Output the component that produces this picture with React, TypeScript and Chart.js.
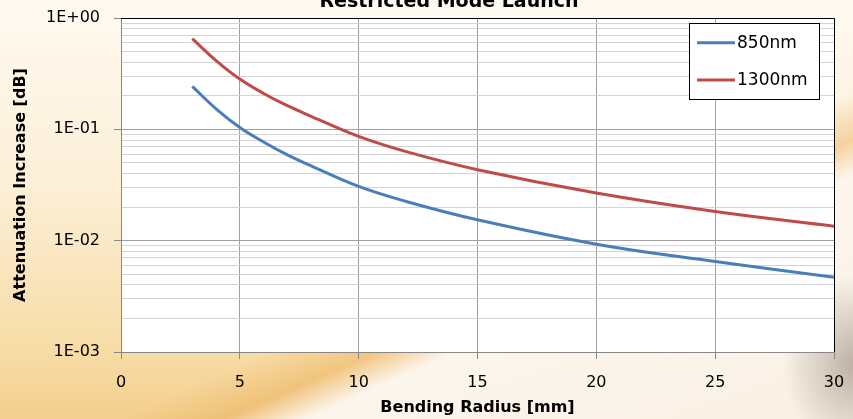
import React, { useEffect, useRef } from 'react';
import { Chart, registerables } from 'chart.js';

Chart.register(...registerables);

// ---- data ----
const radiusMm = [3, 4, 5, 6, 7, 8, 10, 12, 15, 20, 25, 30];
const loss850 = [0.243, 0.153, 0.104, 0.077, 0.059, 0.047, 0.0307, 0.0225, 0.0154, 0.0093, 0.0065, 0.0047];
const loss1300 = [0.652, 0.415, 0.283, 0.21, 0.163, 0.131, 0.0863, 0.063, 0.0434, 0.0268, 0.0183, 0.0135];
const seriesNames = ['850nm', '1300nm'];
const seriesColors = ['#4A7EBB', '#BE4B48'];
const xTickValues = [0, 5, 10, 15, 20, 25, 30];
const yDecades = [1, 0.1, 0.01, 0.001];
const yTickLabels = ['1E+00', '1E-01', '1E-02', '1E-03'];
const titleText = 'Restricted Mode Launch';
const xTitleText = 'Bending Radius [mm]';
const yTitleText = 'Attenuation Increase [dB]';

const FONT = '"DejaVu Sans", "Liberation Sans", sans-serif';

const isDecade = (v: number) => {
  const l = Math.log10(v);
  return Math.abs(l - Math.round(l)) < 1e-6;
};

const decadeLabel = (v: number) => {
  for (let i = 0; i < yDecades.length; i++) {
    if (Math.abs(Math.log10(v) - Math.log10(yDecades[i])) < 1e-6) return yTickLabels[i];
  }
  return '';
};

export default function App() {
  const canvasRef = useRef<HTMLCanvasElement | null>(null);

  useEffect(() => {
    document.body.style.margin = '0';
    const canvas = canvasRef.current;
    if (!canvas) return;

    const plotBg = {
      id: 'plotBg',
      beforeDraw(chart: any) {
        const { ctx, chartArea } = chart;
        ctx.save();
        ctx.fillStyle = '#ffffff';
        ctx.fillRect(chartArea.left, chartArea.top, chartArea.right - chartArea.left, chartArea.bottom - chartArea.top);
        ctx.restore();
      },
    };

    const frameAndText = {
      id: 'frameAndText',
      afterDraw(chart: any) {
        const { ctx, chartArea } = chart;
        ctx.save();
        // black frame on top and right
        ctx.strokeStyle = '#000000';
        ctx.lineWidth = 1;
        ctx.beginPath();
        ctx.moveTo(chartArea.left, chartArea.top + 0.5);
        ctx.lineTo(chartArea.right + 0.5, chartArea.top + 0.5);
        ctx.lineTo(chartArea.right + 0.5, chartArea.bottom);
        ctx.stroke();

        // title
        ctx.fillStyle = '#000000';
        ctx.font = `bold 19px ${FONT}`;
        ctx.textAlign = 'center';
        ctx.textBaseline = 'alphabetic';
        ctx.fillText(titleText, 449, 7);

        // legend
        const lx = 689.5, ly = 23.5, lw = 130, lh = 76;
        ctx.fillStyle = '#ffffff';
        ctx.fillRect(lx, ly, lw, lh);
        ctx.strokeStyle = '#000000';
        ctx.strokeRect(lx, ly, lw, lh);
        const rows = [42.7, 80];
        chart.data.datasets.forEach((ds: any, i: number) => {
          const y = rows[i];
          ctx.strokeStyle = ds.borderColor;
          ctx.lineWidth = 3;
          ctx.beginPath();
          ctx.moveTo(697, y);
          ctx.lineTo(735, y);
          ctx.stroke();
          ctx.fillStyle = '#000000';
          ctx.font = `17px ${FONT}`;
          ctx.textAlign = 'left';
          ctx.textBaseline = 'middle';
          ctx.fillText(ds.label, 737, y + 1);
        });
        ctx.restore();
      },
    };

    const makeDs = (label: string, values: number[], color: string) => ({
      label,
      data: radiusMm.map((x, i) => ({ x, y: values[i] })),
      borderColor: color,
      backgroundColor: color,
      borderWidth: 3,
      pointRadius: 0,
      tension: 0.4,
      fill: false,
    });

    const chart = new Chart(canvas, {
      type: 'line',
      data: {
        datasets: [
          makeDs(seriesNames[0], loss850, seriesColors[0]),
          makeDs(seriesNames[1], loss1300, seriesColors[1]),
        ],
      },
      options: {
        animation: false,
        responsive: false,
        maintainAspectRatio: false,
        layout: { padding: { top: 18, right: 19, bottom: 0, left: 0 } },
        plugins: {
          legend: { display: false },
          title: { display: false },
          tooltip: { enabled: false },
        },
        scales: {
          x: {
            type: 'linear',
            min: xTickValues[0],
            max: xTickValues[xTickValues.length - 1],
            afterBuildTicks: (scale: any) => {
              scale.ticks = xTickValues.map((v) => ({ value: v }));
            },
            afterFit: (scale: any) => {
              scale.height = 67;
              scale.paddingLeft = 0;
              scale.paddingRight = 0;
            },
            ticks: {
              color: '#000000',
              font: { family: FONT, size: 16 },
              padding: 14,
              maxRotation: 0,
              autoSkip: false,
            },
            grid: {
              color: '#a0a0a0',
              tickColor: '#888888',
              tickLength: 7,
              lineWidth: 1,
            },
            border: { color: '#888888', width: 1 },
            title: {
              display: true,
              text: xTitleText,
              color: '#000000',
              font: { family: FONT, size: 16, weight: 'bold' },
              padding: { top: 0, bottom: 2 },
            },
          },
          y: {
            type: 'logarithmic',
            min: 0.001,
            max: 1,
            afterBuildTicks: (scale: any) => {
              const vals: number[] = [];
              for (let d = 0; d < yDecades.length - 1; d++) {
                const base = yDecades[yDecades.length - 1 - d];
                for (let s = 1; s <= 9; s++) vals.push(base * s);
              }
              vals.push(yDecades[0]);
              scale.ticks = vals.map((v) => ({ value: v, major: isDecade(v) }));
            },
            afterFit: (scale: any) => {
              scale.width = 121;
              scale.paddingTop = 0;
              scale.paddingBottom = 0;
            },
            ticks: {
              color: '#000000',
              font: { family: FONT, size: 16 },
              padding: 14,
              autoSkip: false,
              callback: (v: any) => decadeLabel(Number(v)),
            },
            grid: {
              color: (ctx: any) => (ctx.tick && isDecade(ctx.tick.value) ? '#a0a0a0' : '#d4d4d4'),
              tickColor: (ctx: any) => (ctx.tick && isDecade(ctx.tick.value) ? '#888888' : 'rgba(0,0,0,0)'),
              tickLength: 7,
              lineWidth: 1,
            },
            border: { color: '#888888', width: 1 },
            title: {
              display: true,
              text: yTitleText,
              color: '#000000',
              font: { family: FONT, size: 16, weight: 'bold' },
              padding: { top: 11, bottom: 0 },
            },
          },
        },
      } as any,
      plugins: [plotBg, frameAndText],
    });

    return () => {
      chart.destroy();
    };
  }, []);

  const bg = [
    'radial-gradient(ellipse 70px 90px at 853px 365px, rgba(140,125,110,0.55), rgba(140,125,110,0) 100%)',
    'linear-gradient(156deg, rgba(255,255,255,0) 59%, rgba(236,178,95,0.5) 65%, rgba(252,246,238,0.97) 69.5%, rgba(250,242,232,0.97) 100%)',
    'linear-gradient(180deg, #fffaf1 0%, #fcefd6 45%, #f7dba4 85%, #f3cf8e 100%)',
  ].join(', ');

  return (
    <div style={{ position: 'fixed', left: 0, top: 0, width: 853, height: 419, background: bg, overflow: 'hidden' }}>
      <canvas ref={canvasRef} width={853} height={419} style={{ display: 'block', width: 853, height: 419 }} />
    </div>
  );
}
